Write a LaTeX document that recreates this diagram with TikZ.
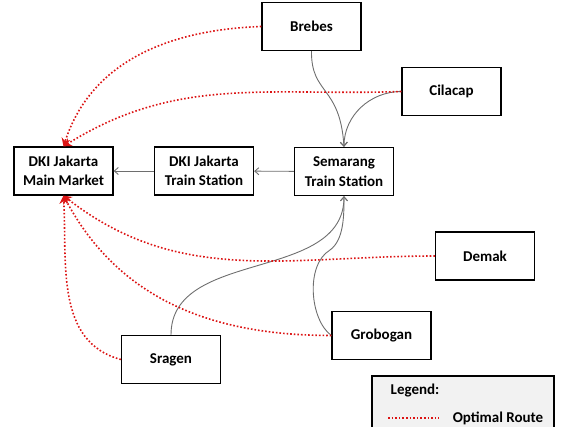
\documentclass[tikz,border=0pt]{standalone}
\usepackage{fontspec}
\setmainfont{Carlito}
\usetikzlibrary{arrows.meta}
\definecolor{optred}{RGB}{220,20,20}
\definecolor{linegray}{RGB}{110,110,110}
\definecolor{legfill}{RGB}{242,242,242}
\tikzset{
  box/.style={draw=black, line width=1.3pt, fill=white, minimum width=99pt, minimum height=48pt,
    inner sep=0pt, align=center, font=\fontsize{15}{19.5}\selectfont\bfseries},
  flow/.style={draw=linegray, line width=0.9pt, -{Straight Barb[length=4pt,width=7pt]}},
  optimal/.style={draw=optred, line width=1.6pt, dash pattern=on 1.6pt off 2pt,
    -{Stealth[length=8pt,width=9pt,sep=0pt]}},
  legtext/.style={font=\fontsize{15}{18}\selectfont\bfseries, inner sep=0pt}
}
\begin{document}
\begin{tikzpicture}[x=1pt,y=-1pt]
\useasboundingbox (0,0) rectangle (563,427);
\begin{scope}
\clip (0,0) rectangle (563,427);
\node[draw=black, line width=1.3pt, fill=legfill, minimum width=182pt, minimum height=62pt, inner sep=0pt] (legend) at (463,407) {};
\end{scope}
\node[legtext] (legtitle) at (415,391) {Legend:};
\node[legtext] (legopt) at (498,418) {Optimal Route};
\coordinate (ls) at (388,418);
\coordinate (le) at (439,418);
\draw[draw=optred, line width=1.6pt, dash pattern=on 1.6pt off 2pt] (ls) -- (le);

\node[box] (mm) at (63.5,171) {DKI Jakarta\\Main Market};
\node[box] (dts) at (204,171) {DKI Jakarta\\Train Station};
\node[box] (sts) at (344,171.5) {Semarang\\Train Station};
\node[box] (brebes) at (311.5,26.5) {Brebes};
\node[box] (cilacap) at (451.5,91.5) {Cilacap};
\node[box] (demak) at (485,256) {Demak};
\node[box] (grobogan) at (381.5,335.5) {Grobogan};
\node[box] (sragen) at (171,359.5) {Sragen};

% solid flows
\draw[flow] (dts) -- (mm);
\draw[flow] (sts) -- (dts);
\draw[flow] (brebes.south) .. controls (311,95) and (340,85) .. (sts.north);
\draw[flow] (cilacap.west) to[out=180,in=90] (sts.north);
\draw[flow] (sragen.north) to[out=90,in=-90] (sts.south);
\draw[flow] (grobogan.west) .. controls (310,320) and (305,265) .. (330,250) .. controls (344,240) and (344,215) .. (sts.south);

% optimal routes
\draw[optimal] (brebes.west) to[out=182,in=72] (mm.north);
\draw[optimal] (cilacap.west) to[out=182,in=32] (mm.north);
\draw[optimal] (demak.west) to[out=180,in=-38] (mm.south);
\draw[optimal] (grobogan.west) to[out=180,in=-62] (mm.south);
\draw[optimal] (sragen.west) to[out=165,in=-87] (mm.south);
\end{tikzpicture}
\end{document}
